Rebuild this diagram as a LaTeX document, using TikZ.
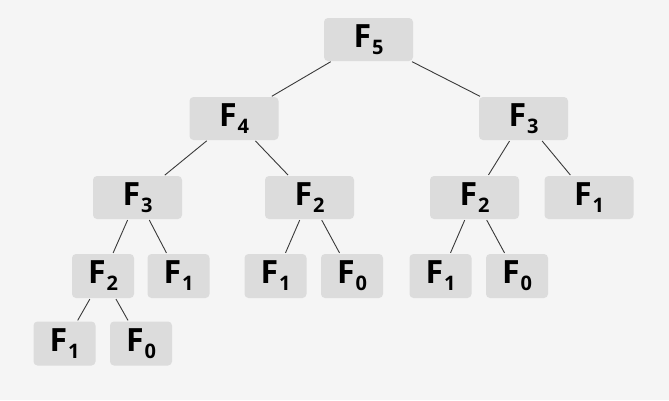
\documentclass[tikz,border=0pt]{standalone}
\usepackage{fontspec}
\setmainfont{Open Sans}
\usepackage{tikz}

\newcommand{\fib}[1]{F\kern1pt\raisebox{-7pt}{\fontsize{20pt}{20pt}\selectfont #1}}

\begin{document}
\begin{tikzpicture}[x=1pt,y=-1pt,
		box/.style={rectangle, rounded corners=4pt, fill=boxgray, draw=none, minimum width=89pt, minimum height=43pt, inner sep=0pt, font=\fontsize{32pt}{32pt}\selectfont\bfseries},
		small/.style={box, minimum width=62pt, minimum height=44pt},
		edge/.style={draw=linegray, line width=0.9pt, shorten <=1pt, shorten >=1pt}]
		\definecolor{boxgray}{HTML}{DCDCDC}
		\definecolor{linegray}{HTML}{3A3A3A}
		\fill[color={rgb,255:red,245;green,245;blue,245}] (0,0) rectangle (669,400);
		\useasboundingbox (0,0) rectangle (669,400);

		\node (f5) [box] at (368.5,39.5) {\fib{5}};

		\node (f4) [box] at (234,118.5) {\fib{4}};
		\node (f3r) [box] at (523.5,118.5) {\fib{3}};

		\node (f3) [box] at (137.5,197.5) {\fib{3}};
		\node (f2m) [box] at (309.5,197.5) {\fib{2}};
		\node (f2r) [box] at (474.5,197.5) {\fib{2}};
		\node (f1r) [box] at (589,197.5) {\fib{1}};

		\node (f2) [small] at (103,276) {\fib{2}};
		\node (f1a) [small] at (178.5,276) {\fib{1}};
		\node (f1b) [small] at (275.5,276) {\fib{1}};
		\node (f0b) [small] at (352,276) {\fib{0}};
		\node (f1c) [small] at (440.5,276) {\fib{1}};
		\node (f0c) [small] at (517,276) {\fib{0}};

		\node (f1) [small] at (64.5,343.5) {\fib{1}};
		\node (f0) [small] at (141,343.5) {\fib{0}};

		\draw[edge] (f5) -- (f4);
		\draw[edge] (f5) -- (f3r);
		\draw[edge] (f4) -- (f3);
		\draw[edge] (f4) -- (f2m);
		\draw[edge] (f3r) -- (f2r);
		\draw[edge] (f3r) -- (f1r);
		\draw[edge] (f3) -- (f2);
		\draw[edge] (f3) -- (f1a);
		\draw[edge] (f2m) -- (f1b);
		\draw[edge] (f2m) -- (f0b);
		\draw[edge] (f2r) -- (f1c);
		\draw[edge] (f2r) -- (f0c);
		\draw[edge] (f2) -- (f1);
		\draw[edge] (f2) -- (f0);
	\end{tikzpicture}
\end{document}
